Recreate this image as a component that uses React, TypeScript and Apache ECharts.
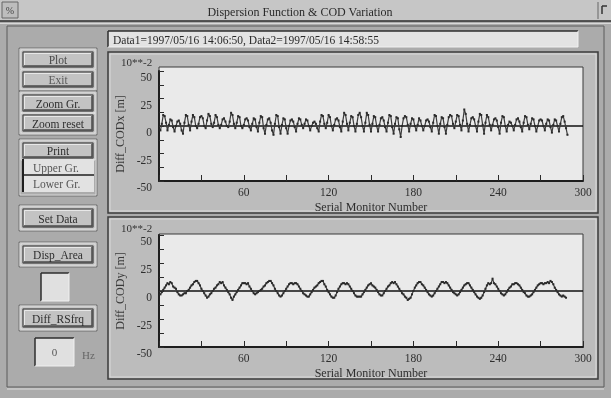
import React, { useEffect, useRef } from "react";
import * as echarts from "echarts";

// ---- data (values in 10**-2 m), x = serial monitor number starting at 1 ----
const upperValues: number[] = [
  -4,
  2, 10, 9, 3, -4, 1, 6, 5, -1, -5, 0, 4, 5, 2, -4, -7,
  3, 10, 9, 1, -4, 4, 10, 8, 0, -2, 2, 8, 9, 7, 0, -2,
  5, 11, 9, 2, -1, 3, 10, 8, 1, -2, 1, 6, 7, 4, 0, -1,
  4, 12, 10, 2, -2, 3, 9, 8, 0, -2, 1, 6, 7, 5, -1, -4,
  2, 7, 6, -1, -5, 3, 9, 8, -2, -7, 1, 6, 7, 3, -4, -8,
  2, 10, 9, -1, -7, 1, 7, 6, -2, -7, 0, 5, 6, 4, -1, -5,
  2, 7, 6, 1, -2, 2, 6, 5, 0, -4, 0, 3, 4, 2, -2, -5,
  4, 10, 9, 2, -2, 3, 10, 8, 0, -4, 1, 6, 7, 5, -1, -5,
  4, 12, 10, 2, -4, 3, 9, 8, 0, -5, 2, 10, 12, 8, 0, -5,
  3, 12, 10, 1, -5, 2, 9, 8, 0, -5, 1, 7, 8, 5, -1, -5,
  3, 10, 9, -1, -7, 2, 8, 7, -3, -10, 0, 7, 9, 8, 1, -5,
  2, 7, 6, 0, -4, 1, 7, 5, 0, -4, 0, 5, 6, 4, -1, -5,
  3, 10, 9, 0, -7, 2, 8, 7, -1, -7, 1, 8, 10, 9, 2, -2,
  4, 10, 9, 1, -4, 5, 15, 11, 2, -5, 1, 7, 8, 6, 0, -5,
  4, 11, 10, 1, -7, 3, 10, 8, 1, -4, 1, 6, 7, 5, -1, -7,
  3, 9, 8, 0, -5, 1, 4, 3, 0, -4, 1, 6, 7, 4, -1, -5,
  3, 9, 8, 1, -3, 2, 7, 6, 0, -5, 0, 5, 6, 5, 0, -4,
  2, 6, 5, -1, -6, 1, 6, 5, 0, -5, 2, 8, 9, 4, -2, -8,
];

const lowerValues: number[] = [
  -3, -1, 1, 3, 5, 7, 6, 8, 7, 4, 3, 2, -1, -3, -4, -4, -3, -2, -2, 0,
  1, 3, 5, 6, 8, 9, 9, 7, 5, 2, 0, -2, -4, -6, -5, -3, -2, 0, 2, 3,
  5, 6, 8, 7, 8, 5, 3, 1, -1, -3, -6, -8, -5, -3, -1, 1, 3, 5, 7, 7,
  7, 6, 7, 4, 2, 0, -2, -3, -2, -1, 0, 1, 2, 4, 5, 7, 8, 9, 9, 7,
  5, 2, 0, -2, -4, -5, -4, -2, 0, 2, 4, 6, 7, 7, 6, 7, 7, 6, 4, 2,
  0, -2, -3, -4, -5, -5, -3, -1, 1, 3, 4, 5, 7, 8, 9, 9, 6, 4, 1, -1,
  -3, -5, -6, -6, -4, -1, 2, 4, 6, 7, 7, 6, 7, 6, 4, 2, 0, -2, -4, -5,
  -5, -5, -5, -3, -1, 1, 3, 5, 6, 7, 5, 4, 3, 1, -1, -3, -4, -4, -2, 0,
  2, 4, 5, 7, 8, 7, 8, 6, 4, 2, 0, -2, -3, -5, -6, -8, -7, -6, -3, 0,
  3, 5, 7, 8, 8, 6, 5, 3, 1, -1, -3, -4, -5, -4, -2, 0, 2, 4, 6, 8,
  8, 7, 8, 7, 5, 3, 1, -1, -2, -3, -4, -3, -1, 1, 3, 5, 6, 7, 7, 5,
  3, 1, -1, -3, -5, -6, -7, -6, -4, -1, 2, 5, 7, 6, 7, 11, 7, 6, 4, 2,
  0, -2, -3, -4, -3, -1, 1, 3, 4, 6, 6, 7, 7, 6, 5, 3, 1, -1, -2, -4,
  -5, -5, -4, -3, -1, 1, 3, 5, 6, 7, 7, 6, 7, 7, 8, 7, 9, 8, 6, 3,
  1, -1, -3, -4, -5, -4, -5, -6,
];

const xTickLabels = [60, 120, 180, 240, 300];
const yTickLabels = [-50, -25, 0, 25, 50];

const windowTitle = "Dispersion Function & COD Variation";
const dataInfo = "Data1=1997/05/16 14:06:50, Data2=1997/05/16 14:58:55";
const yNames = ["Diff_CODx [m]", "Diff_CODy [m]"];
const xName = "Serial Monitor Number";
const scaleLabel = "10**-2";
const buttonLabels = ["Plot", "Exit", "Zoom Gr.", "Zoom reset", "Print", "Set Data", "Disp_Area", "Diff_RSfrq"];
const fieldLabels = ["Upper Gr.", "Lower Gr."];
const freqValue = "0";
const freqUnit = "Hz";

const FONT = '"Liberation Serif", "Times New Roman", serif';

// ---- graphic helpers ----
function rect(x: number, y: number, w: number, h: number, fill: string, stroke = "none", lw = 1): any {
  return { type: "rect", silent: true, z: 0, shape: { x, y, width: w, height: h }, style: { fill, stroke, lineWidth: lw } };
}
function line(x1: number, y1: number, x2: number, y2: number, stroke: string, lw = 1): any {
  return { type: "line", silent: true, z: 0, shape: { x1, y1, x2, y2 }, style: { stroke, lineWidth: lw } };
}
function text(str: string, x: number, y: number, size: number, fill: string, align = "left"): any {
  return {
    type: "text", silent: true, z: 1,
    style: { text: str, x, y, fill, font: `${size}px ${FONT}`, textAlign: align, textVerticalAlign: "middle", align, verticalAlign: "middle" },
  };
}
function sunken(x: number, y: number, w: number, h: number, fill: string): any[] {
  return [
    rect(x, y, w, h, fill),
    line(x, y, x + w, y, "#2e2e2e", 1.5),
    line(x, y, x, y + h, "#2e2e2e", 1.5),
    line(x, y + h, x + w, y + h, "#f0f0f0", 1),
    line(x + w, y, x + w, y + h, "#f0f0f0", 1),
  ];
}
function button(label: string, x: number, y: number, w: number, h: number, color: string): any[] {
  return [
    rect(x - 2, y - 2, w + 4, h + 4, "none", "#e6e6e6", 1),
    rect(x, y, w, h, "#c3c3c3", "#3a3a3a", 1),
    line(x + 1.5, y + 1.5, x + w - 1.5, y + 1.5, "#e8e8e8", 1),
    line(x + 1.5, y + 1.5, x + 1.5, y + h - 1.5, "#e8e8e8", 1),
    line(x + 1, y + h - 1, x + w - 1, y + h - 1, "#4a4a4a", 1.5),
    line(x + w - 1, y + 1, x + w - 1, y + h - 1, "#4a4a4a", 1.5),
    text(label, x + w / 2, y + h / 2 + 0.5, 11.5, color, "center"),
  ];
}
function groupFrame(x: number, y: number, w: number, h: number): any[] {
  return [rect(x, y, w, h, "none", "#707070", 1), rect(x + 1, y + 1, w - 2, h - 2, "none", "#d6d6d6", 1)];
}
function panel(x: number, y: number, w: number, h: number): any[] {
  return [
    rect(x, y, w, h, "#bcbcbc", "#3c3c3c", 1.5),
    rect(x + 2, y + 2, w - 4, h - 4, "none", "#dadada", 1),
  ];
}

function buildGraphic(): any[] {
  const g: any[] = [];
  g.push(rect(0, 0, 611, 398, "#ababab"));
  // title bar
  g.push(rect(0, 0, 611, 21, "#c6c6c6"));
  g.push(line(0, 21, 611, 21, "#2e2e2e", 1.5));
  g.push(line(0, 23.5, 611, 23.5, "#d8d8d8", 1));
  g.push(rect(2, 2, 16, 16, "#bdbdbd", "#666", 1));
  g.push(text("%", 10, 10, 10, "#444", "center"));
  g.push(line(598, 2, 598, 19, "#666", 1));
  g.push(line(602, 6, 602, 14, "#333", 1.5));
  g.push(line(602, 6, 607, 6, "#333", 1.5));
  g.push(text(windowTitle, 300, 12, 12, "#2a2a2a", "center"));
  // window frame
  g.push(rect(7, 26, 597, 361, "none", "#5a5a5a", 1));
  g.push(line(7, 389, 604, 389, "#dcdcdc", 1));
  // info box
  g.push(...sunken(108, 31, 470, 16, "#e3e3e3"));
  g.push(text(dataInfo, 113, 40, 11.5, "#2a2a2a"));
  // left controls
  g.push(...groupFrame(19, 48, 78, 43));
  g.push(...button(buttonLabels[0], 23, 52, 70, 15, "#4a4a4a"));
  g.push(...button(buttonLabels[1], 23, 72, 70, 15, "#5a5a5a"));
  g.push(...groupFrame(19, 91, 78, 44));
  g.push(...button(buttonLabels[2], 23, 95, 70, 16, "#2e2e2e"));
  g.push(...button(buttonLabels[3], 23, 115, 70, 16, "#2e2e2e"));
  g.push(...groupFrame(19, 139, 78, 57));
  g.push(...button(buttonLabels[4], 23, 143, 70, 15, "#2e2e2e"));
  g.push(rect(22, 159, 72, 33, "#e2e2e2"));
  g.push(line(23, 159, 23, 192, "#1e1e1e", 2));
  g.push(line(22, 175, 94, 175, "#1e1e1e", 1.5));
  g.push(text(fieldLabels[0], 33, 167.5, 11.5, "#555"));
  g.push(text(fieldLabels[1], 33, 184, 11.5, "#555"));
  g.push(...groupFrame(19, 205, 78, 26));
  g.push(...button(buttonLabels[5], 23, 209, 70, 18, "#2e2e2e"));
  g.push(...groupFrame(19, 242, 78, 25));
  g.push(...button(buttonLabels[6], 23, 246, 70, 17, "#2e2e2e"));
  g.push(...sunken(41, 273, 28, 28, "#e0e0e0"));
  g.push(...groupFrame(19, 305, 78, 26));
  g.push(...button(buttonLabels[7], 23, 309, 70, 18, "#2e2e2e"));
  g.push(...sunken(35, 338, 39, 28, "#e0e0e0"));
  g.push(text(freqValue, 54.5, 352, 11, "#555", "center"));
  g.push(text(freqUnit, 82, 355, 11, "#666"));
  // chart panels and plot areas
  g.push(...panel(108, 52, 490, 161));
  g.push(...panel(108, 217, 490, 162));
  g.push(rect(159, 67, 424, 114, "#eaeaea", "#3a3a3a", 1));
  g.push(rect(159, 234, 424, 113, "#eaeaea", "#3a3a3a", 1));
  g.push(text(scaleLabel, 121, 62, 11, "#333"));
  g.push(text(scaleLabel, 121, 228, 11, "#333"));
  return g;
}

const grids = [
  { left: 159, top: 71, width: 424, height: 110 },
  { left: 159, top: 235, width: 424, height: 112 },
];
const yNamePadding = [[0, 16, 0, 0], [0, 0, 0, 0]];

export default function App() {
  const ref = useRef<HTMLDivElement>(null);
  useEffect(() => {
    if (!ref.current) return;
    const chart = echarts.init(ref.current, undefined, { renderer: "svg" });
    const seriesData = [upperValues, lowerValues];
    chart.setOption({
      animation: false,
      graphic: { elements: buildGraphic() },
      grid: grids.map((g) => ({ ...g, containLabel: false })),
      xAxis: grids.map((_, i) => ({
        type: "value",
        gridIndex: i,
        min: 0,
        max: 300,
        interval: 30,
        z: 5,
        axisLine: { show: true, onZero: false, lineStyle: { color: "#1e1e1e", width: 2 } },
        axisTick: { show: true, inside: true, length: 6, lineStyle: { color: "#2a2a2a", width: 1 } },
        axisLabel: {
          formatter: (v: number) => (xTickLabels.includes(v) ? String(v) : ""),
          margin: 5,
          fontFamily: FONT,
          fontSize: 11.5,
          color: "#2e2e2e",
          showMinLabel: true,
          showMaxLabel: true,
        },
        splitLine: { show: false },
        name: xName,
        nameLocation: "middle",
        nameGap: 20,
        nameTextStyle: { fontFamily: FONT, fontSize: 12, color: "#2e2e2e" },
      })),
      yAxis: grids.map((_, i) => ({
        type: "value",
        gridIndex: i,
        min: -50,
        max: 50,
        interval: 12.5,
        z: 5,
        axisLine: { show: true, onZero: false, lineStyle: { color: "#1e1e1e", width: 2 } },
        axisTick: { show: true, inside: true, length: 5, lineStyle: { color: "#2a2a2a", width: 1 } },
        axisLabel: {
          formatter: (v: number) => (yTickLabels.includes(v) ? String(v === 0 ? 0 : v) : ""),
          margin: 7,
          verticalAlign: "top",
          fontFamily: FONT,
          fontSize: 11.5,
          color: "#2e2e2e",
        },
        splitLine: { show: false },
        name: yNames[i],
        nameLocation: "middle",
        nameGap: 26,
        nameRotate: 90,
        nameTextStyle: { fontFamily: FONT, fontSize: 12, color: "#3a3a3a", padding: yNamePadding[i] },
      })),
      series: seriesData.map((vals, i) => ({
        type: "line",
        xAxisIndex: i,
        yAxisIndex: i,
        z: 6,
        data: vals.map((v, k) => [k + 1, v]),
        showSymbol: true,
        symbol: "rect",
        symbolSize: 2,
        itemStyle: { color: "#2a2a2a" },
        lineStyle: { color: "#3c3c3c", width: 1.2 },
        markLine: {
          silent: true,
          symbol: ["none", "none"],
          label: { show: false },
          lineStyle: { color: "#111", width: 1.6, type: "solid" },
          data: [{ yAxis: 0 }],
        },
      })),
    });
    return () => chart.dispose();
  }, []);
  return <div ref={ref} style={{ position: "fixed", left: 0, top: 0, width: 611, height: 398 }} />;
}
